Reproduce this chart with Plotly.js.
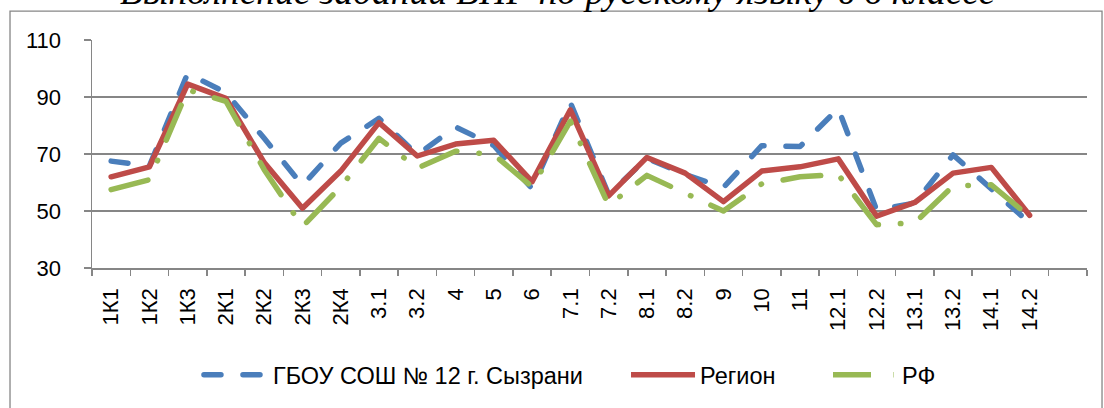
<!DOCTYPE html>
<html>
<head>
<meta charset="utf-8">
<script src="https://cdn.plot.ly/plotly-3.0.1.min.js"></script>
<style>
html, body { margin: 0; padding: 0; background: #fff; }
#chart { width: 1104px; height: 408px; }
.scatterlayer .js-line, .legend .js-line { stroke-linecap: round; stroke-linejoin: round; }
</style>
</head>
<body>
<div id="chart"></div>
<script>
const TITLE = 'Выполнение заданий ВПР по русскому языку в 6 классе';
const CATEGORIES = ['1К1','1К2','1К3','2К1','2К2','2К3','2К4','3.1','3.2','4','5','6','7.1','7.2','8.1','8.2','9','10','11','12.1','12.2','13.1','13.2','14.1','14.2'];
const SERIES_NAMES = ['ГБОУ СОШ № 12 г. Сызрани', 'Регион', 'РФ'];
const SCHOOL = [67.5, 65.8, 98.3, 91.5, 75.5, 59, 73.8, 82.5, 69.7, 79.5, 73, 57.8, 88, 55.8, 68.5, 62.8, 58.3, 72.9, 72.6, 86, 50.4, 52.8, 69.7, 58, 45.8];
const REGION = [62, 65.5, 94.5, 89.5, 67, 51, 64, 81, 69.3, 73.5, 74.8, 60.3, 85.5, 55.3, 68.8, 63.3, 53.3, 64, 65.5, 68.3, 48.2, 53, 63.3, 65.3, 48.5];
const RF = [57.5, 61, 92.5, 88.5, 64.5, 44.5, 58.5, 75.5, 65, 71, 69.8, 58.5, 81.5, 52, 62.5, 56.5, 50, 59.5, 62, 62.8, 45.2, 45.8, 58.8, 59.2, 48];
const Y_TICKS = [30, 50, 70, 90, 110];

const FONT = 'Liberation Sans, Arial, sans-serif';
const GRID = '#868686';

const traces = [
  { x: CATEGORIES, y: SCHOOL, name: SERIES_NAMES[0], type: 'scatter', mode: 'lines', legend: 'legend',
    line: { color: '#4A7EBB', width: 5.5, dash: '17px,22px' } },
  { x: CATEGORIES, y: REGION, name: SERIES_NAMES[1], type: 'scatter', mode: 'lines', legend: 'legend2',
    line: { color: '#BE4B48', width: 5.5 } },
  { x: CATEGORIES, y: RF, name: SERIES_NAMES[2], type: 'scatter', mode: 'lines', legend: 'legend3',
    line: { color: '#98B954', width: 5.5, dash: '38px,22px,0.5px,22px' } }
];

function legendAt(xPaper) {
  return { orientation: 'h', x: xPaper, xanchor: 'left', y: -0.463, yanchor: 'middle',
           font: { family: FONT, size: 23.5, color: '#000' }, bgcolor: 'rgba(0,0,0,0)',
           borderwidth: 0, itemwidth: 64 };
}

const layout = {
  width: 1104, height: 408,
  margin: { l: 92, r: 17, t: 40, b: 139 },
  paper_bgcolor: '#fff', plot_bgcolor: '#fff',
  font: { family: FONT, size: 22, color: '#000' },
  title: { text: '<i>' + TITLE + '</i>', font: { family: 'Liberation Serif, Times New Roman, serif', size: 37.5, color: '#000' },
           xref: 'container', x: 0.505, xanchor: 'center', yref: 'paper', y: 1, yanchor: 'bottom', pad: { b: 36 } },
  showlegend: true,
  legend: legendAt(0.1075),
  legend2: legendAt(0.5367),
  legend3: legendAt(0.7397),
  xaxis: {
    type: 'category', categoryorder: 'array', categoryarray: CATEGORIES.concat([' ']),
    range: [-0.5, CATEGORIES.length + 0.5],
    showline: true, linecolor: GRID, linewidth: 1.5,
    ticks: 'outside', tickson: 'boundaries', ticklen: 6, tickcolor: GRID, tickwidth: 1.5,
    tickangle: -90, ticklabelstandoff: 10,
    showgrid: false, zeroline: false, fixedrange: true,
    tickfont: { family: FONT, size: 22, color: '#000' }
  },
  yaxis: {
    range: [30, 110], tickvals: Y_TICKS, ticktext: Y_TICKS.map(String),
    showline: true, linecolor: GRID, linewidth: 1.5,
    ticks: 'outside', ticklen: 7, tickcolor: GRID, tickwidth: 1.5, ticklabelstandoff: 18,
    showgrid: true, gridcolor: GRID, gridwidth: 1.5, zeroline: false, fixedrange: true,
    tickfont: { family: FONT, size: 22, color: '#000' }
  },
  shapes: [
    { type: 'rect', xref: 'paper', yref: 'paper',
      x0: -0.0824, x1: 1.0151, y0: -0.7, y1: 1.1266,
      line: { color: GRID, width: 1.3 }, fillcolor: 'rgba(0,0,0,0)', layer: 'above' }
  ]
};

Plotly.newPlot('chart', traces, layout, { staticPlot: true, displayModeBar: false });
</script>
</body>
</html>
